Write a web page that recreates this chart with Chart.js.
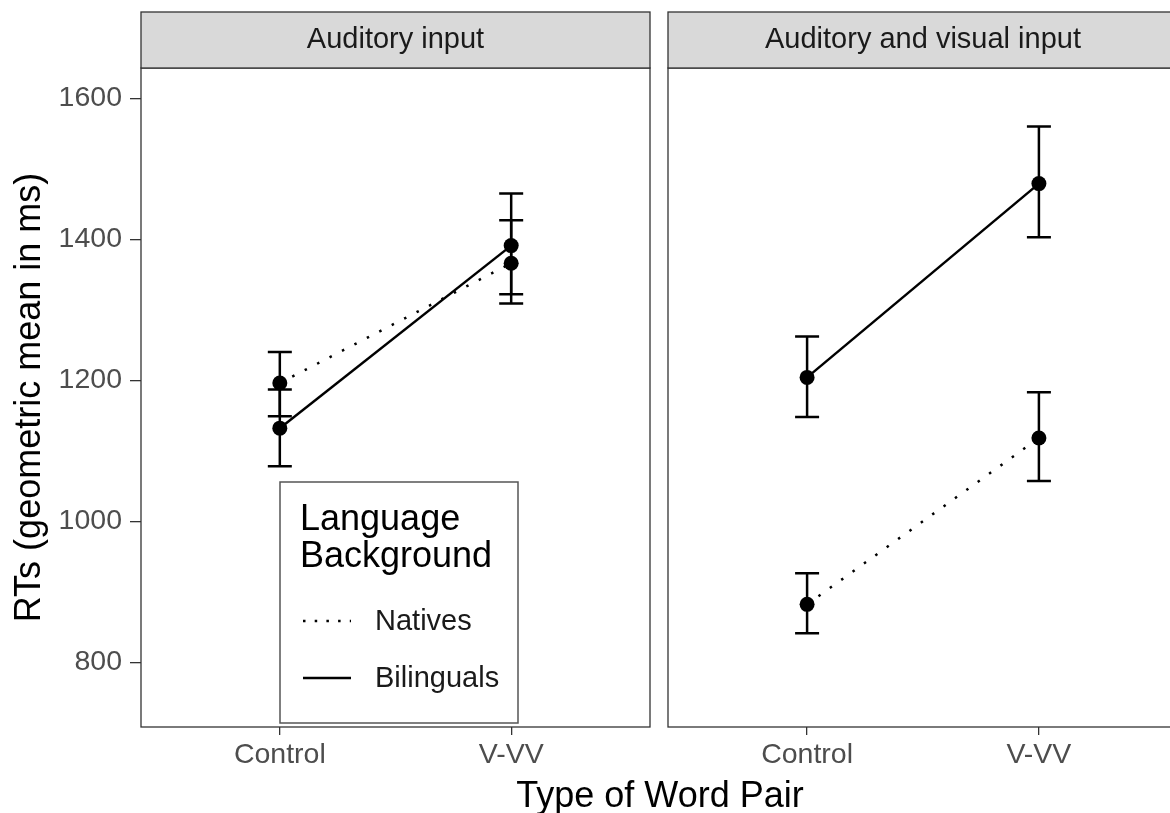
<!DOCTYPE html>
<html>
<head>
<meta charset="utf-8">
<script src="https://cdn.jsdelivr.net/npm/chart.js@4.4.1/dist/chart.umd.min.js"></script>
<style>
  html, body { margin: 0; padding: 0; background: #fff; overflow: hidden; }
  #wrap { position: relative; width: 1170px; height: 813px; overflow: hidden; }
  canvas { position: absolute; top: 0; }
  #left-panel { left: 0; }
  #right-panel { left: 660px; }
  #x-title {
    position: absolute; left: 160px; width: 1000px; top: 777px;
    text-align: center; font: 36px 'Liberation Sans', Arial, sans-serif;
    line-height: 1; color: #000;
  }
</style>
</head>
<body>
<div id="wrap">
  <canvas id="left-panel" width="660" height="813"></canvas>
  <canvas id="right-panel" width="520" height="813"></canvas>
  <div id="x-title">Type of Word Pair</div>
</div>
<script>
const FONT = "'Liberation Sans', Arial, sans-serif";

const categories = ['Control', 'V-VV'];
const panelTitles = ['Auditory input', 'Auditory and visual input'];
const groupNames = ['Natives', 'Bilinguals'];
const legendTitle = ['Language', 'Background'];
const yTicks = [800, 1000, 1200, 1400, 1600];

// auditory input
const audNatives = [1196, 1366];
const audNativesLow = [1149, 1309];
const audNativesHigh = [1240, 1427];
const audBilinguals = [1132, 1391];
const audBilingualsLow = [1078, 1322];
const audBilingualsHigh = [1187, 1465];

// auditory and visual input
const avNatives = [882, 1118];
const avNativesLow = [841, 1057];
const avNativesHigh = [926, 1183];
const avBilinguals = [1204, 1479];
const avBilingualsLow = [1148, 1403];
const avBilingualsHigh = [1262, 1560];

const toPoints = values => values.map((v, i) => ({ x: i + 1, y: v }));

const makeDataset = (label, values, low, high, dotted) => ({
  label,
  data: toPoints(values),
  errLow: low,
  errHigh: high,
  borderColor: '#000',
  borderWidth: 2.5,
  borderDash: dotted ? [2.5, 11.5] : [],
  pointRadius: 7.5,
  pointBackgroundColor: '#000',
  pointBorderWidth: 0,
  fill: false,
});

// strip, panel border and error bars
const panelPlugin = {
  id: 'panel',
  beforeDatasetsDraw(chart) {
    const { ctx } = chart;
    const xs = chart.scales.x;
    const ys = chart.scales.y;
    ctx.save();
    ctx.strokeStyle = '#000';
    ctx.lineWidth = 2.5;
    chart.data.datasets.forEach(ds => {
      ds.data.forEach((p, i) => {
        const x = xs.getPixelForValue(p.x);
        const lo = ys.getPixelForValue(ds.errLow[i]);
        const hi = ys.getPixelForValue(ds.errHigh[i]);
        ctx.beginPath();
        ctx.moveTo(x, lo);
        ctx.lineTo(x, hi);
        ctx.moveTo(x - 12, lo);
        ctx.lineTo(x + 12, lo);
        ctx.moveTo(x - 12, hi);
        ctx.lineTo(x + 12, hi);
        ctx.stroke();
      });
    });
    ctx.restore();
  },
  afterDraw(chart, args, opts) {
    const { ctx, chartArea: a } = chart;
    ctx.save();
    ctx.strokeStyle = '#333';
    ctx.lineWidth = 1.3;
    ctx.strokeRect(a.left, a.top, a.right - a.left, a.bottom - a.top);

    ctx.fillStyle = '#d9d9d9';
    ctx.fillRect(a.left, 12, a.right - a.left, a.top - 12);
    ctx.strokeRect(a.left, 12, a.right - a.left, a.top - 12);

    ctx.fillStyle = '#1a1a1a';
    ctx.font = `29px ${FONT}`;
    ctx.textAlign = 'center';
    ctx.textBaseline = 'middle';
    ctx.fillText(opts.strip, (a.left + a.right) / 2, 40);
    ctx.restore();
  },
};

// legend box inside the left panel
const boxLegendPlugin = {
  id: 'boxLegend',
  afterDraw(chart, args, opts) {
    if (!opts.show) return;
    const { ctx } = chart;
    const left = 280, top = 482, w = 238, h = 241;
    ctx.save();
    ctx.fillStyle = '#fff';
    ctx.fillRect(left, top, w, h);
    ctx.strokeStyle = '#555';
    ctx.lineWidth = 1.5;
    ctx.strokeRect(left, top, w, h);

    ctx.fillStyle = '#000';
    ctx.font = `36px ${FONT}`;
    ctx.textAlign = 'left';
    ctx.textBaseline = 'alphabetic';
    legendTitle.forEach((t, i) => ctx.fillText(t, left + 20, top + 48 + i * 37));

    ctx.font = `29px ${FONT}`;
    ctx.textBaseline = 'middle';
    chart.data.datasets.forEach((ds, i) => {
      const y = top + 139 + i * 57;
      ctx.strokeStyle = '#000';
      ctx.lineWidth = 2.5;
      ctx.setLineDash(ds.borderDash.length ? [2.5, 9.2] : []);
      ctx.beginPath();
      ctx.moveTo(left + 23, y);
      ctx.lineTo(left + 71, y);
      ctx.stroke();
      ctx.setLineDash([]);
      ctx.fillStyle = '#1a1a1a';
      ctx.fillText(ds.label, left + 95, y + 1);
    });
    ctx.restore();
  },
};

function makeConfig(datasets, strip, showY, padding, showLegend) {
  return {
    type: 'line',
    data: { datasets },
    plugins: [panelPlugin, boxLegendPlugin],
    options: {
      responsive: false,
      animation: false,
      events: [],
      layout: { padding, autoPadding: false },
      plugins: {
        legend: { display: false },
        tooltip: { enabled: false },
        panel: { strip },
        boxLegend: { show: showLegend },
      },
      scales: {
        x: {
          type: 'linear',
          min: 0.4,
          max: 2.6,
          afterBuildTicks: s => {
            s.ticks = categories.map((c, i) => ({ value: i + 1 }));
          },
          afterFit: s => {
            s.height = 86;
          },
          ticks: {
            callback: v => categories[v - 1],
            font: { family: FONT, size: 28.5 },
            color: '#4d4d4d',
            padding: 3,
            maxRotation: 0,
            autoSkip: false,
          },
          grid: {
            drawOnChartArea: false,
            tickLength: 8,
            color: '#333',
            lineWidth: 1.3,
          },
          border: { display: false },
        },
        y: {
          display: showY,
          min: 708,
          max: 1643,
          afterBuildTicks: s => {
            s.ticks = yTicks.map(v => ({ value: v }));
          },
          afterFit: s => {
            s.width = showY ? 141 : 0;
          },
          ticks: {
            callback: v => String(v),
            font: { family: FONT, size: 28.5 },
            color: '#4d4d4d',
            padding: 8,
          },
          grid: {
            drawOnChartArea: false,
            tickLength: 11,
            color: '#333',
            lineWidth: 1.3,
          },
          border: { display: false },
          title: {
            display: true,
            text: 'RTs (geometric mean in ms)',
            font: { family: FONT, size: 36 },
            color: '#000',
            padding: { top: 8, bottom: 0 },
          },
        },
      },
    },
  };
}

new Chart(
  'left-panel',
  makeConfig(
    [
      makeDataset(groupNames[0], audNatives, audNativesLow, audNativesHigh, true),
      makeDataset(groupNames[1], audBilinguals, audBilingualsLow, audBilingualsHigh, false),
    ],
    panelTitles[0],
    true,
    { top: 68, left: 0, right: 10, bottom: 0 },
    true
  )
);

new Chart(
  'right-panel',
  makeConfig(
    [
      makeDataset(groupNames[0], avNatives, avNativesLow, avNativesHigh, true),
      makeDataset(groupNames[1], avBilinguals, avBilingualsLow, avBilingualsHigh, false),
    ],
    panelTitles[1],
    false,
    { top: 68, left: 8, right: 2, bottom: 0 },
    false
  )
);
</script>
</body>
</html>
